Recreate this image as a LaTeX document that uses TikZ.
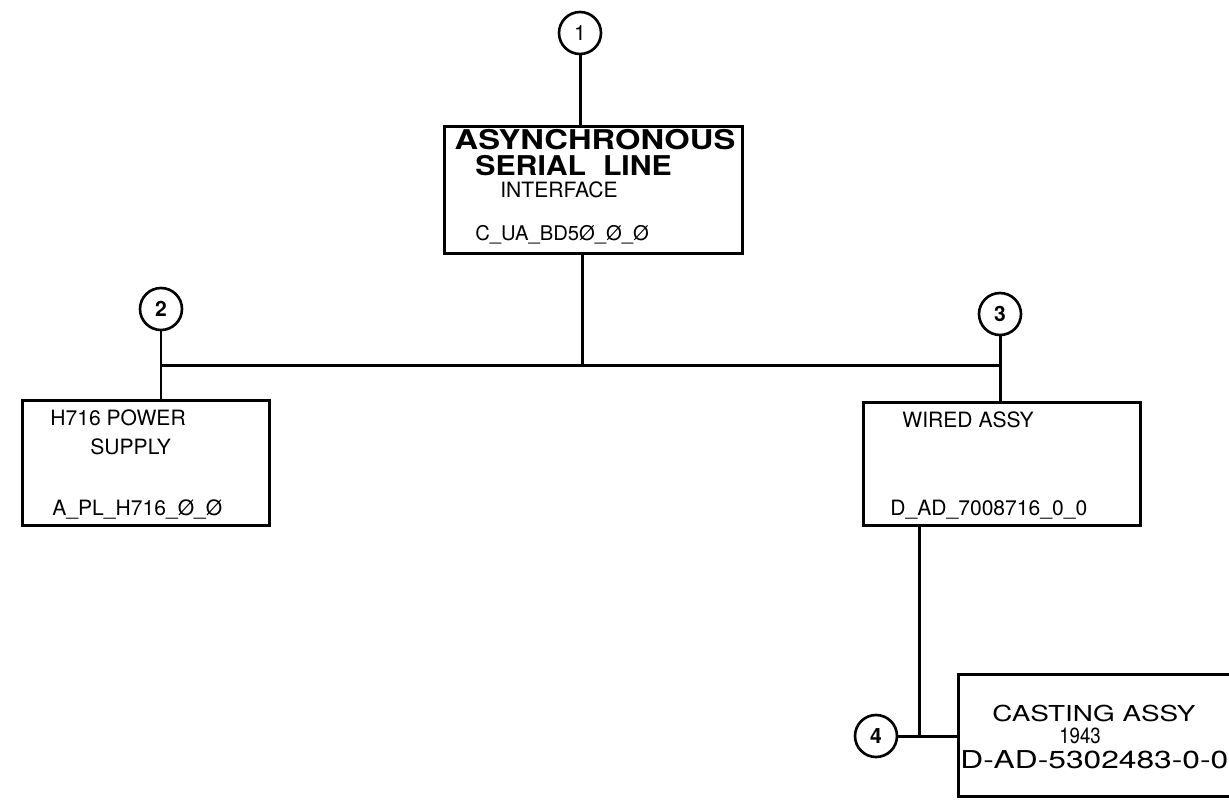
\documentclass[tikz,border=0pt]{standalone}
\usepackage{fontspec}
\setmainfont{TeX Gyre Heros}
\usepackage{graphicx}
\tikzset{
  boxnode/.style={draw, line width=1.7pt, anchor=north west, inner sep=0pt},
  circ/.style={draw, circle, line width=1.5pt, minimum size=0.84cm, inner sep=0pt, font=\fontsize{12}{14}\selectfont},
  conn/.style={line width=1.7pt},
  lbl/.style={inner sep=0pt, font=\fontsize{12}{14}\selectfont},
  biglbl/.style={inner sep=0pt, font=\fontsize{15.5}{17}\selectfont\bfseries},
}
\begin{document}
\begin{tikzpicture}[x=0.02cm,y=-0.02cm]
\useasboundingbox (0,0) rectangle (1229,801);
\clip (0,0) rectangle (1229,801);
\fill[white] (0,0) rectangle (1229,801);

% boxes
\node[boxnode, minimum width=5.96cm, minimum height=2.54cm] (b1) at (443,125) {};
\node[boxnode, minimum width=4.94cm, minimum height=2.5cm] (b2) at (21,399) {};
\node[boxnode, minimum width=5.54cm, minimum height=2.46cm] (b3) at (862,401) {};
\node[boxnode, minimum width=5.9cm, minimum height=2.44cm] (b4) at (957,673) {};

% circles
\node[circ] (c1) at (580,33) {1};
\node[circ] (c2) at (161,309) {\textbf{2}};
\node[circ] (c3) at (1000,314) {\textbf{3}};
\node[circ] (c4) at (876,736) {\textbf{4}};

% junctions
\coordinate (j1) at (582,365);
\coordinate (j4) at (919,736);

% connectors
\draw[conn] (c1) -- (c1 |- b1.north);
\draw[conn] (j1 |- b1.south) -- (j1);
\draw[conn] (c2 |- j1) -- (c3 |- j1);
\draw[conn] (c2) -- (c2 |- b2.north);
\draw[conn] (c3) -- (c3 |- b3.north);
\draw[conn] (j4 |- b3.south) -- (j4);
\draw[conn] (c4) -- (c4 -| b4.west);

% box 1 texts
\node[biglbl] (t1a) at (595,140) {\scalebox{1.2}[1]{ASYNCHRONOUS}};
\node[biglbl, anchor=west] (t1b) at (475,166) {\scalebox{1.11}[1]{SERIAL \ LINE}};
\node[lbl, anchor=west] (t1c) at (500,190) {INTERFACE};
\node[lbl, anchor=west, font=\fontsize{11.5}{14}\selectfont] (t1d) at (475,235) {C\_UA\_BD5Ø\_Ø\_Ø};

% box 2 texts
\node[lbl, anchor=west] (t2a) at (50,418) {H716 POWER};
\node[lbl, anchor=west] (t2b) at (90,447) {SUPPLY};
\node[lbl, anchor=west] (t2c) at (52,509) {A\_PL\_H716\_Ø\_Ø};

% box 3 texts
\node[lbl, anchor=west] (t3a) at (902,420) {WIRED ASSY};
\node[lbl, anchor=west] (t3b) at (890,510) {D\_AD\_7008716\_0\_0};

% box 4 texts
\node[lbl, font=\fontsize{12.5}{14}\selectfont] (t4a) at (1094,713) {\scalebox{1.27}[1]{CASTING ASSY}};
\node[lbl, font=\fontsize{12.5}{14}\selectfont] (t4b) at (1080,736) {\scalebox{0.85}[1]{1943}};
\node[lbl, font=\fontsize{14}{16}\selectfont, anchor=west] (t4c) at (960,760) {\scalebox{1.29}[1]{D-AD-5302483-0-0}};
\end{tikzpicture}
\end{document}
